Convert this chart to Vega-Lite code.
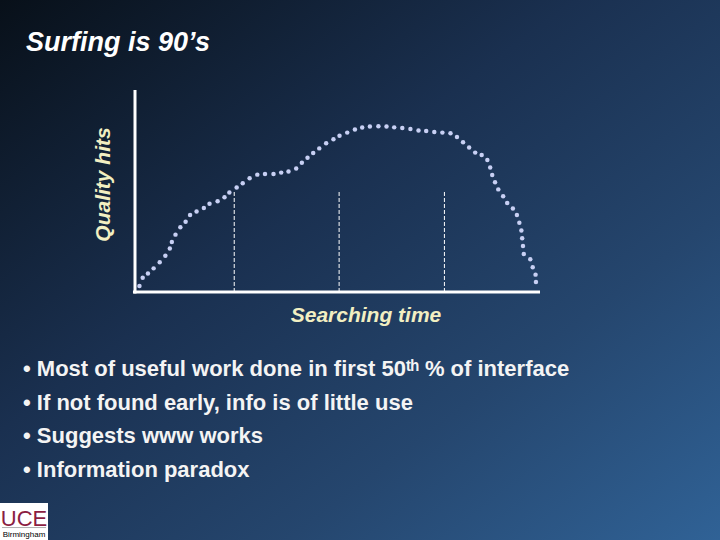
{
  "$schema": "https://vega.github.io/schema/vega-lite/v6.json",
  "width": 720,
  "height": 540,
  "padding": 0,
  "autosize": {"type": "fit", "contains": "padding"},
  "background": "#1f3a5c",
  "title": {
    "text": "Surfing is 90’s",
    "anchor": "start",
    "frame": "group",
    "offset": -57,
    "dx": 26,
    "font": "Liberation Sans",
    "fontSize": 27,
    "fontStyle": "italic",
    "fontWeight": "bold",
    "color": "#ffffff"
  },
  "config": {
    "view": {
      "stroke": null,
      "fill": {
        "gradient": "linear",
        "x1": 0, "y1": 0, "x2": 1, "y2": 1,
        "stops": [
          {"offset": 0, "color": "#081019"},
          {"offset": 0.4, "color": "#1a3050"},
          {"offset": 0.7, "color": "#25466e"},
          {"offset": 1, "color": "#306296"}
        ]
      }
    },
    "axis": {"disable": true},
    "text": {"font": "Liberation Sans"}
  },
  "resolve": {"scale": {"y": "independent"}},
  "layer": [
    {
      "layer": [
        {
          "data": {"values": [{}]},
          "mark": {"type": "rule", "color": "#ffffff", "strokeWidth": 3},
          "encoding": {
            "x": {"datum": -0.5, "type": "quantitative", "scale": {"domain": [-33.333, 144.444], "nice": false, "zero": false}},
            "x2": {"datum": 100},
            "y": {"datum": 0, "type": "quantitative", "scale": {"domain": [-122.772, 144.554], "nice": false, "zero": false}}
          }
        },
        {
          "data": {"values": [{}]},
          "mark": {"type": "rule", "color": "#ffffff", "strokeWidth": 3},
          "encoding": {
            "x": {"datum": 0, "type": "quantitative", "scale": {"domain": [-33.333, 144.444], "nice": false, "zero": false}},
            "y": {"datum": -0.75, "type": "quantitative", "scale": {"domain": [-122.772, 144.554], "nice": false, "zero": false}},
            "y2": {"datum": 100}
          }
        },
        {
          "data": {"values": [{"t": 24.5}, {"t": 50.4}, {"t": 76.4}]},
          "mark": {"type": "rule", "color": "#ffffff", "strokeWidth": 1, "strokeDash": [4, 2]},
          "encoding": {
            "x": {"field": "t", "type": "quantitative", "scale": {"domain": [-33.333, 144.444], "nice": false, "zero": false}},
            "y": {"datum": 0, "type": "quantitative", "scale": {"domain": [-122.772, 144.554], "nice": false, "zero": false}},
            "y2": {"datum": 50.5}
          }
        },
        {
          "data": {"values": [
            {"t": 1.1, "q": 3.0}, {"t": 1.9, "q": 7.1}, {"t": 3.2, "q": 9.2}, {"t": 4.6, "q": 11.7},
            {"t": 6.1, "q": 14.7}, {"t": 7.5, "q": 18.0}, {"t": 8.6, "q": 21.5}, {"t": 9.1, "q": 24.8},
            {"t": 10.0, "q": 28.4}, {"t": 11.2, "q": 32.0}, {"t": 12.5, "q": 34.8}, {"t": 13.6, "q": 38.1},
            {"t": 15.2, "q": 39.8}, {"t": 17.0, "q": 41.6}, {"t": 18.4, "q": 43.7}, {"t": 20.4, "q": 44.9},
            {"t": 22.1, "q": 46.9}, {"t": 23.3, "q": 49.3}, {"t": 25.1, "q": 51.7}, {"t": 26.6, "q": 53.8},
            {"t": 28.3, "q": 56.3}, {"t": 30.2, "q": 58.1}, {"t": 32.1, "q": 58.4}, {"t": 34.2, "q": 58.4},
            {"t": 36.1, "q": 59.1}, {"t": 37.9, "q": 59.7}, {"t": 39.8, "q": 61.1}, {"t": 41.2, "q": 64.0},
            {"t": 42.6, "q": 66.5}, {"t": 44.0, "q": 68.8}, {"t": 45.5, "q": 71.1}, {"t": 47.2, "q": 73.6},
            {"t": 49.0, "q": 75.6}, {"t": 50.5, "q": 77.4}, {"t": 52.4, "q": 78.9}, {"t": 54.3, "q": 80.4},
            {"t": 56.1, "q": 81.4}, {"t": 58.0, "q": 81.9}, {"t": 60.1, "q": 82.0}, {"t": 62.1, "q": 81.9},
            {"t": 64.0, "q": 81.5}, {"t": 66.0, "q": 81.2}, {"t": 68.0, "q": 80.7}, {"t": 70.0, "q": 80.0},
            {"t": 71.9, "q": 79.7}, {"t": 73.9, "q": 79.2}, {"t": 75.9, "q": 78.9}, {"t": 77.9, "q": 78.6},
            {"t": 79.5, "q": 76.7}, {"t": 81.0, "q": 74.1}, {"t": 82.5, "q": 71.5}, {"t": 84.0, "q": 69.0},
            {"t": 85.6, "q": 67.8}, {"t": 87.0, "q": 65.4}, {"t": 87.7, "q": 61.6}, {"t": 88.2, "q": 57.9},
            {"t": 88.9, "q": 54.3}, {"t": 89.7, "q": 50.8}, {"t": 90.9, "q": 47.4}, {"t": 91.9, "q": 44.1},
            {"t": 93.3, "q": 41.3}, {"t": 94.3, "q": 38.1}, {"t": 94.9, "q": 34.3}, {"t": 95.4, "q": 30.5},
            {"t": 95.6, "q": 26.6}, {"t": 95.8, "q": 22.8}, {"t": 96.0, "q": 18.8}, {"t": 97.6, "q": 16.2},
            {"t": 98.2, "q": 12.2}, {"t": 98.9, "q": 8.6}, {"t": 99.0, "q": 5.0}
          ]},
          "mark": {"type": "circle", "size": 20, "color": "#c8d0f4", "opacity": 1},
          "encoding": {
            "x": {"field": "t", "type": "quantitative", "scale": {"domain": [-33.333, 144.444], "nice": false, "zero": false}},
            "y": {"field": "q", "type": "quantitative", "scale": {"domain": [-122.772, 144.554], "nice": false, "zero": false}}
          }
        },
        {
          "data": {"values": [{}]},
          "mark": {"type": "text", "text": "Searching time", "align": "center", "baseline": "alphabetic", "fontSize": 21, "fontStyle": "italic", "fontWeight": "bold", "color": "#f2efc2"},
          "encoding": {
            "x": {"datum": 57.04, "type": "quantitative", "scale": {"domain": [-33.333, 144.444], "nice": false, "zero": false}},
            "y": {"datum": -14.7, "type": "quantitative", "scale": {"domain": [-122.772, 144.554], "nice": false, "zero": false}}
          }
        },
        {
          "data": {"values": [{}]},
          "mark": {"type": "text", "text": "Quality hits", "angle": 270, "align": "center", "baseline": "alphabetic", "fontSize": 21, "fontStyle": "italic", "fontWeight": "bold", "color": "#f2efc2"},
          "encoding": {
            "x": {"datum": -6.2, "type": "quantitative", "scale": {"domain": [-33.333, 144.444], "nice": false, "zero": false}},
            "y": {"datum": 53.2, "type": "quantitative", "scale": {"domain": [-122.772, 144.554], "nice": false, "zero": false}}
          }
        },
        {
          "data": {"values": [{}]},
          "mark": {"type": "rect", "color": "#ffffff"},
          "encoding": {
            "x": {"datum": -33.333, "type": "quantitative", "scale": {"domain": [-33.333, 144.444], "nice": false, "zero": false}},
            "x2": {"datum": -21.48},
            "y": {"datum": -104.46, "type": "quantitative", "scale": {"domain": [-122.772, 144.554], "nice": false, "zero": false}},
            "y2": {"datum": -122.772}
          }
        },
        {
          "data": {"values": [{}]},
          "mark": {"type": "rule", "color": "#9a9a9a", "strokeWidth": 0.8},
          "encoding": {
            "x": {"datum": -32.84, "type": "quantitative", "scale": {"domain": [-33.333, 144.444], "nice": false, "zero": false}},
            "x2": {"datum": -21.98},
            "y": {"datum": -116.6, "type": "quantitative", "scale": {"domain": [-122.772, 144.554], "nice": false, "zero": false}}
          }
        },
        {
          "data": {"values": [{}]},
          "mark": {"type": "text", "text": "UCE", "align": "center", "baseline": "alphabetic", "font": "Liberation Sans Narrow, Liberation Sans", "fontSize": 22, "color": "#8b1d42"},
          "encoding": {
            "x": {"datum": -27.41, "type": "quantitative", "scale": {"domain": [-33.333, 144.444], "nice": false, "zero": false}},
            "y": {"datum": -115.6, "type": "quantitative", "scale": {"domain": [-122.772, 144.554], "nice": false, "zero": false}}
          }
        },
        {
          "data": {"values": [{}]},
          "mark": {"type": "text", "text": "Birmingham", "align": "center", "baseline": "alphabetic", "fontSize": 8, "color": "#000000"},
          "encoding": {
            "x": {"datum": -27.41, "type": "quantitative", "scale": {"domain": [-33.333, 144.444], "nice": false, "zero": false}},
            "y": {"datum": -121.29, "type": "quantitative", "scale": {"domain": [-122.772, 144.554], "nice": false, "zero": false}}
          }
        }
      ]
    },
    {
      "data": {"values": [
        {"line": 1, "text": "• Most of useful work done in first 50ᵗʰ % of interface"},
        {"line": 2, "text": "• If not found early, info is of little use"},
        {"line": 3, "text": "• Suggests www works"},
        {"line": 4, "text": "• Information paradox"}
      ]},
      "mark": {"type": "text", "align": "left", "baseline": "alphabetic", "fontSize": 22, "fontWeight": "bold", "color": "#f4f4f4"},
      "encoding": {
        "x": {"datum": -27.65, "type": "quantitative", "scale": {"domain": [-33.333, 144.444], "nice": false, "zero": false}},
        "y": {"field": "line", "type": "quantitative", "scale": {"domain": [1, 4], "range": [376, 477], "nice": false, "zero": false}},
        "text": {"field": "text"}
      }
    }
  ]
}
